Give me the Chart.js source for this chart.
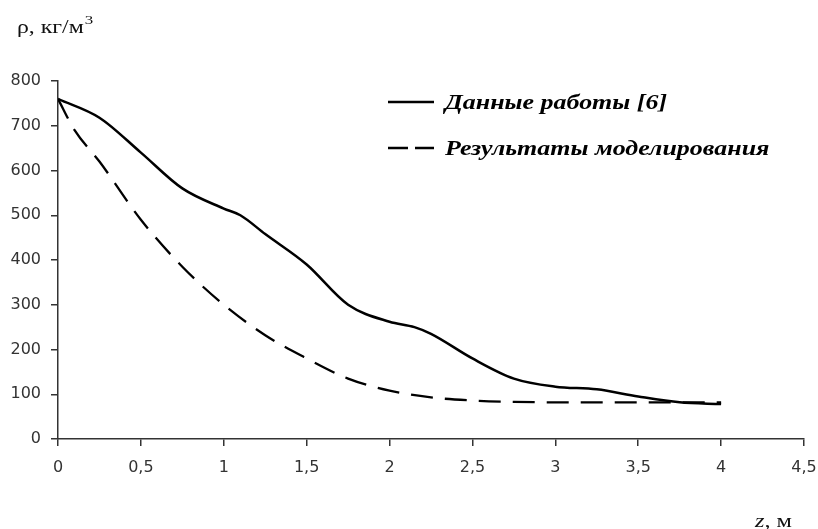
<!DOCTYPE html>
<html>
<head>
<meta charset="utf-8">
<script src="https://cdn.jsdelivr.net/npm/chart.js@4/dist/chart.umd.min.js"></script>
<style>
  html, body { margin: 0; padding: 0; background: #fff; }
  #wrap { width: 818px; height: 529px; position: relative; }
</style>
</head>
<body>
<div id="wrap"><canvas id="densityChart"></canvas></div>
<script>
// density along z
const zRef = [0, 0.25, 0.5, 0.75, 1.0, 1.1, 1.25, 1.5, 1.75, 2.0, 2.15, 2.25, 2.5, 2.75, 3.0, 3.25, 3.5, 3.75, 4.0];
const rhoRef = [760, 718, 640, 560, 515, 500, 458, 390, 300, 262, 250, 235, 180, 135, 117, 111, 95, 82, 78];

const zModel = [0, 0.1, 0.25, 0.5, 0.75, 1.0, 1.25, 1.5, 1.75, 2.0, 2.25, 2.5, 2.75, 3.0, 3.5, 4.0];
const rhoModel = [760, 690, 620, 490, 385, 300, 232, 180, 135, 108, 93, 86, 83, 82, 82, 82];

const seriesLabels = ["Данные работы [6]", "Результаты моделирования"];
const yTitle = "ρ, кг/м";
const xTitle = "z, м";

const toPoints = (xs, ys) => xs.map((x, i) => ({ x: x, y: ys[i] }));

// text a bit wider than the font, like the source figure
function wideText(ctx, text, x, y, sx) {
  ctx.save();
  ctx.translate(x, y);
  ctx.scale(sx, 1);
  ctx.fillText(text, 0, 0);
  const w = ctx.measureText(text).width * sx;
  ctx.restore();
  return w;
}

// legend + axis titles drawn over the chart
const extras = {
  id: "extras",
  afterDraw(chart) {
    const ctx = chart.ctx;
    ctx.save();
    ctx.fillStyle = "#111";
    ctx.textBaseline = "alphabetic";

    // y title with superscript 3
    ctx.font = "18px 'Liberation Serif'";
    const w = wideText(ctx, yTitle, 17, 33, 1.32);
    ctx.font = "13px 'Liberation Serif'";
    wideText(ctx, "3", 17 + w + 1, 24, 1.3);

    // x title
    ctx.font = "italic 18px 'Liberation Serif'";
    const zw = wideText(ctx, xTitle.slice(0, 1), 755, 527, 1.35);
    ctx.font = "18px 'Liberation Serif'";
    wideText(ctx, xTitle.slice(1), 755 + zw, 527, 1.35);

    // legend
    const rows = [102, 148];
    chart.data.datasets.forEach((ds, i) => {
      const y = rows[i];
      ctx.strokeStyle = "#000";
      ctx.lineWidth = 2.5;
      ctx.setLineDash(i === 0 ? [] : [20, 7]);
      ctx.beginPath();
      ctx.moveTo(388, y);
      ctx.lineTo(434, y);
      ctx.stroke();
      ctx.setLineDash([]);
      ctx.font = "italic bold 22px 'Liberation Serif'";
      ctx.fillStyle = "#000";
      wideText(ctx, ds.label, 445, y + 7, 1.18);
    });
    ctx.restore();
  }
};

const ctx = document.getElementById("densityChart").getContext("2d");

new Chart(ctx, {
  type: "line",
  data: {
    datasets: [{
      label: seriesLabels[0],
      data: toPoints(zRef, rhoRef),
      borderColor: "#000",
      borderWidth: 2.5,
      pointRadius: 0,
      cubicInterpolationMode: "monotone",
      fill: false
    }, {
      label: seriesLabels[1],
      data: toPoints(zModel, rhoModel),
      borderColor: "#000",
      borderWidth: 2.3,
      borderDash: [22, 12],
      pointRadius: 0,
      cubicInterpolationMode: "monotone",
      fill: false
    }]
  },
  options: {
    responsive: true,
    maintainAspectRatio: false,
    animation: false,
    layout: { padding: { left: 0, top: 81, right: 14, bottom: 0 } },
    plugins: {
      legend: { display: false },
      tooltip: { enabled: false }
    },
    scales: {
      x: {
        type: "linear",
        min: 0,
        max: 4.5,
        afterFit: (s) => { s.height = 90; s.paddingRight = 0; s.paddingLeft = 0; },
        border: { color: "#333", width: 1.5 },
        grid: { drawOnChartArea: false, drawTicks: true, tickLength: 7, color: "#333", lineWidth: 1.5 },
        ticks: {
          stepSize: 0.5,
          padding: 12,
          color: "#333",
          font: { family: "'DejaVu Sans'", size: 16 },
          callback: (v) => String(v).replace(".", ",")
        }
      },
      y: {
        min: 0,
        max: 800,
        afterFit: (s) => { s.width = 58; s.paddingTop = 0; s.paddingBottom = 0; },
        border: { color: "#333", width: 1.5 },
        grid: { drawOnChartArea: false, drawTicks: true, tickLength: 7, color: "#333", lineWidth: 1.5 },
        ticks: {
          stepSize: 100,
          padding: 10,
          color: "#333",
          font: { family: "'DejaVu Sans'", size: 16 }
        }
      }
    }
  },
  plugins: [extras]
});
</script>
</body>
</html>
